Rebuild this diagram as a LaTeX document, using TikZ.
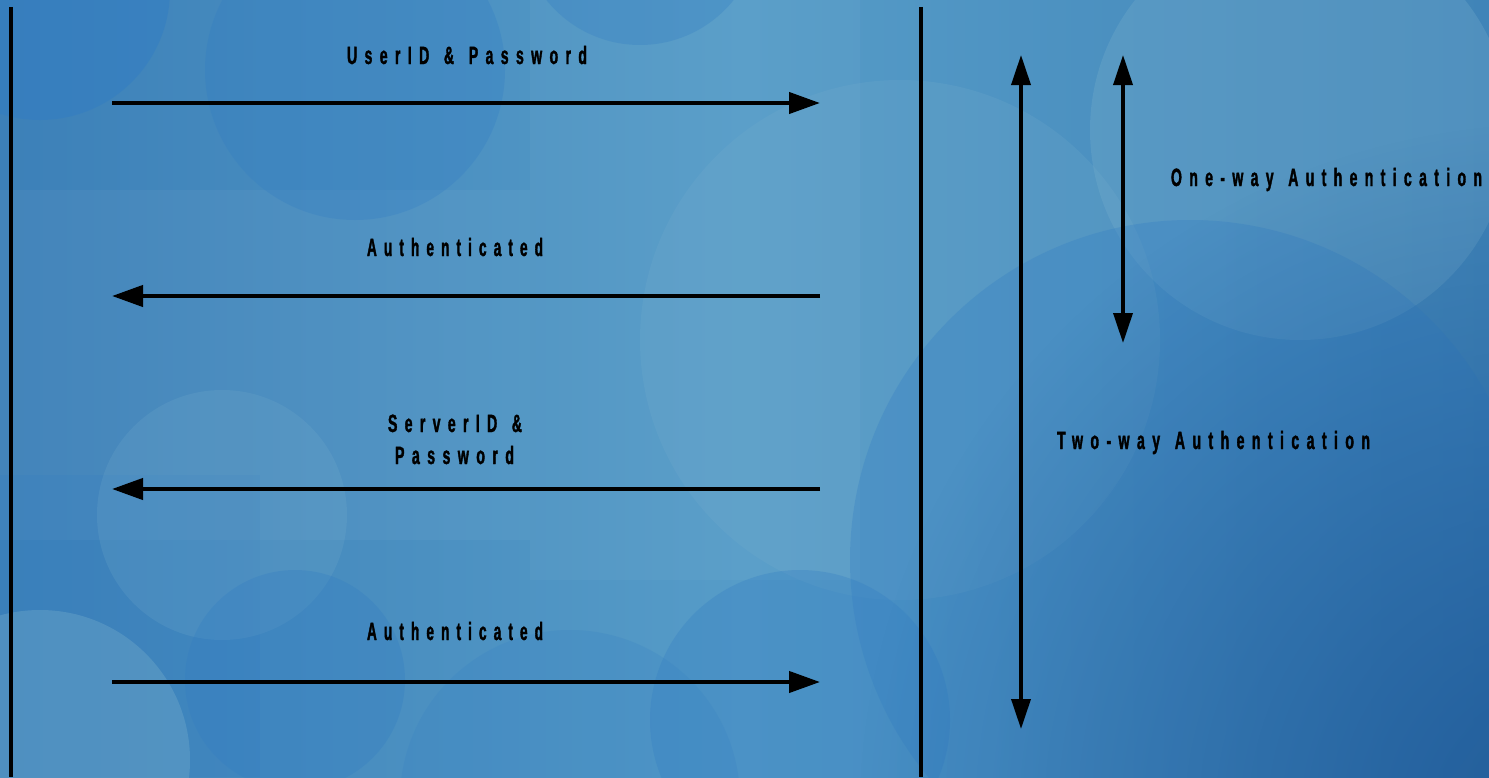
\documentclass[tikz,border=0pt]{standalone}
\usepackage{fontspec}
\usetikzlibrary{arrows.meta,fadings}
\newfontfamily\lblfont[FakeStretch=0.5,FakeBold=1.2,LetterSpace=26,WordSpace=1.3]{Liberation Sans Bold}
\definecolor{bgA}{RGB}{60,128,184}
\definecolor{bgB}{RGB}{86,156,200}
\definecolor{bgC}{RGB}{64,132,184}
\definecolor{bgD}{RGB}{30,88,150}
\definecolor{circDark}{RGB}{50,125,195}
\definecolor{circLight}{RGB}{120,175,205}
\tikzfading[name=radfade, inner color=transparent!0, outer color=transparent!100]
\newcommand{\lblfit}[2]{\resizebox{#1bp}{\height}{\lblfont\fontsize{25bp}{27bp}\selectfont #2}}
\tikzset{
  msg/.style={line width=4.2bp,-{Triangle[length=31bp,width=21bp]}},
  span/.style={line width=3.6bp,{Triangle[length=30bp,width=19bp]}-{Triangle[length=30bp,width=19bp]}},
  life/.style={line width=3.6bp},
  lbl/.style={inner sep=0pt,anchor=base,text=black},
  blobD/.style={fill=circDark,fill opacity=0.3},
  blobL/.style={fill=circLight,fill opacity=0.2},
}
\begin{document}
\begin{tikzpicture}[x=1bp,y=-1bp]
\useasboundingbox (0,0) rectangle (1489,777);
% background
\shade[left color=bgA,right color=bgC,middle color=bgB] (0,0) rectangle (1489,777);
\begin{scope}
\clip (0,0) rectangle (1489,777);
\fill[white,opacity=0.04] (0,190) rectangle (530,540);
\fill[white,opacity=0.03] (530,0) rectangle (860,580);
\fill[circDark,opacity=0.2] (0,475) rectangle (260,777);
\fill[blobD,fill opacity=0.5] (40,-10) circle (130);
\fill[blobD] (355,70) circle (150);
\fill[blobD] (640,-75) circle (120);
\fill[blobL] (900,340) circle (260);
\fill[blobL,fill opacity=0.3] (1300,130) circle (210);
\fill[blobD,fill opacity=0.3] (1190,560) circle (340);
\fill[blobL] (222,515) circle (125);
\fill[blobD] (295,680) circle (110);
\fill[blobL,fill opacity=0.35] (40,760) circle (150);
\fill[blobD] (800,720) circle (150);
\fill[blobD,fill opacity=0.2] (570,800) circle (170);
\fill[bgD,path fading=radfade,fit fading=true,opacity=0.9] (1560,820) circle (700);
\end{scope}
% lifelines
\coordinate (lt) at (11,7);
\coordinate (lb) at (11,777);
\coordinate (mt) at (921,7);
\coordinate (mb) at (921,777);
\draw[life] (lt) -- (lb);
\draw[life] (mt) -- (mb);
% messages
\coordinate (a1) at (112,103); \coordinate (b1) at (820,103);
\coordinate (a2) at (112,296); \coordinate (b2) at (820,296);
\coordinate (a3) at (112,489); \coordinate (b3) at (820,489);
\coordinate (a4) at (112,682); \coordinate (b4) at (820,682);
\draw[msg] (a1) -- (b1);
\draw[msg] (b2) -- (a2);
\draw[msg] (b3) -- (a3);
\draw[msg] (a4) -- (b4);
% span arrows
\coordinate (t1) at (1021,55); \coordinate (t2) at (1021,729);
\coordinate (o1) at (1123,55); \coordinate (o2) at (1123,343);
\draw[span] (t1) -- (t2);
\draw[span] (o1) -- (o2);
% labels
\node[lbl] (l1) at (467,64) {\lblfit{240}{UserID \& Password}};
\node[lbl] (l2) at (455,256) {\lblfit{176}{Authenticated}};
\node[lbl] (l3) at (455,432) {\lblfit{134}{ServerID \&}};
\node[lbl] (l3b) at (454.5,464) {\lblfit{119}{Password}};
\node[lbl] (l4) at (455,640) {\lblfit{176}{Authenticated}};
\node[lbl] (l5) at (1326.5,186) {\lblfit{311}{One-way Authentication}};
\node[lbl] (l6) at (1213.5,449) {\lblfit{313}{Two-way Authentication}};
\end{tikzpicture}
\end{document}
